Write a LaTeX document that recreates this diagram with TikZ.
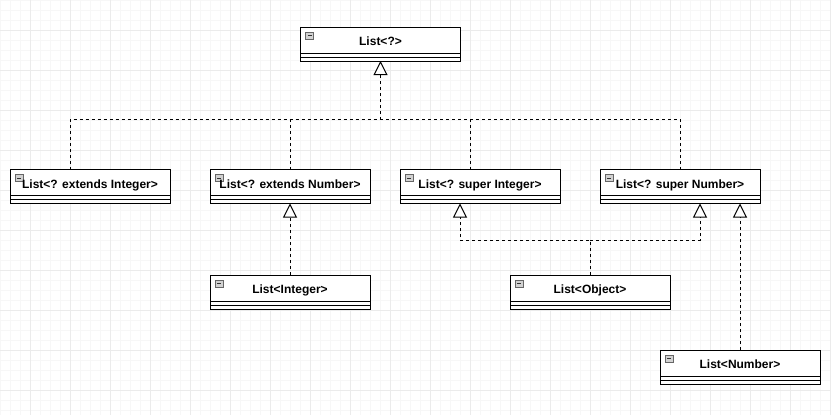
\documentclass[tikz,border=0pt]{standalone}
\usepackage{fontspec}
\setmainfont{Liberation Sans}
\usetikzlibrary{arrows.meta}

\tikzset{
  umlclass/.style={draw, line width=1pt, fill=white, minimum width=160pt, minimum height=34pt,
    inner sep=0pt, outer sep=0pt, text height=9pt, text depth=6pt,
    font=\fontsize{12}{14}\selectfont\bfseries,
    path picture={
      \draw[line width=1pt] ([yshift=8pt]path picture bounding box.south west) -- ([yshift=8pt]path picture bounding box.south east);
      \draw[line width=1pt] ([yshift=4pt]path picture bounding box.south west) -- ([yshift=4pt]path picture bounding box.south east);
      \draw[gray!80!black, fill=gray!35, line width=0.6pt] ([shift={(5,5)}]path picture bounding box.north west) rectangle ++(8,7);
      \draw[black!80, line width=0.8pt] ([shift={(7,8.5)}]path picture bounding box.north west) -- ++(4,0);
    }},
  realize/.style={line width=1pt, dash pattern=on 3pt off 3pt, -{Triangle[fill=white, length=14pt, width=14pt]}},
  depend/.style={line width=1pt, dash pattern=on 3pt off 3pt}
}

\begin{document}
\begin{tikzpicture}[x=1pt,y=-1pt]
\useasboundingbox (0,0) rectangle (831,415);
\fill[white] (0,0) rectangle (831,415);

% Grid
\foreach \x in {0,10,...,830} \draw[line width=0.6pt,gray!6] (\x,0) -- (\x,415);
\foreach \y in {0,10,...,410} \draw[line width=0.6pt,gray!6] (0,\y) -- (831,\y);
\foreach \x in {30,70,...,830} \draw[line width=0.6pt,gray!16] (\x,0) -- (\x,415);
\foreach \y in {30,70,...,410} \draw[line width=0.6pt,gray!16] (0,\y) -- (831,\y);

% Classes
\node[umlclass] (wild) at (380.5,44) {List<?>};
\node[umlclass] (extInt) at (90,186.5) {List<? extends Integer>};
\node[umlclass] (extNum) at (290,186.5) {List<? extends Number>};
\node[umlclass] (supInt) at (480,186.5) {List<? super Integer>};
\node[umlclass] (supNum) at (680,186.5) {List<? super Number>};
\node[umlclass] (integer) at (290,292) {List<Integer>};
\node[umlclass] (object) at (590,292) {List<Object>};
\node[umlclass] (number) at (740,367) {List<Number>};

% Junction points
\coordinate (fork) at (380.5,119);
\coordinate (join) at (590,240);

% Wildcards up to List<?>
\draw[realize] ([xshift=-20pt]extInt.north) |- (fork) -- (wild.south);
\draw[depend] (supNum.north) |- (fork);
\draw[depend] (extNum.north) -- (extNum.north |- fork);
\draw[depend] ([xshift=-10pt]supInt.north) -- ([xshift=-10pt]supInt.north |- fork);

% Concrete lists
\draw[realize] (integer.north) -- (extNum.south);
\draw[realize] (object.north) -- (join) -| ([xshift=-20pt]supInt.south);
\draw[realize] (join) -| ([xshift=20pt]supNum.south);
\draw[realize] (number.north) -- (number.north |- supNum.south);
\end{tikzpicture}
\end{document}
